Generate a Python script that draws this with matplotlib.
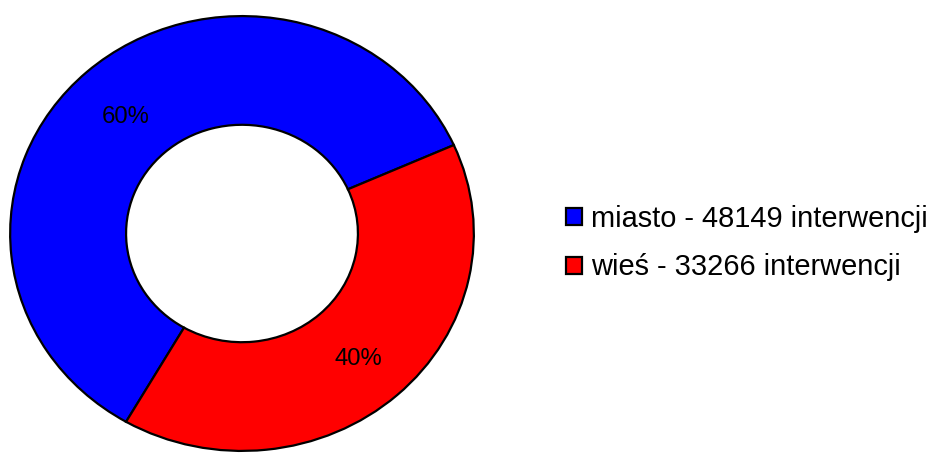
import matplotlib.pyplot as plt

# Data
categories = ['miasto', 'wieś']
counts = [48149, 33266]
shares = [60, 40]
colors = ['#0000FF', '#FF0000']

plt.rcParams['font.family'] = ['Liberation Sans', 'DejaVu Sans']

fig = plt.figure(figsize=(9.33, 4.53), dpi=100)
# axes sized so the ring is slightly wider than tall, like the original
ax = fig.add_axes([9 / 933, 1 / 453, 466 / 933, 437 / 453])

wedges, texts, autotexts = ax.pie(
    shares, colors=colors, startangle=24, counterclock=True,
    autopct='%.0f%%', pctdistance=0.75,
    wedgeprops=dict(width=0.5, edgecolor='black', linewidth=1.6),
    textprops=dict(fontsize=17.2, color='black'))

# labels sit a touch lower in the original
for t in autotexts:
    x, y = t.get_position()
    t.set_position((x, y - 0.022))

ax.set_aspect('auto')
ax.set_xlim(-1.005, 1.005)
ax.set_ylim(-1.005, 1.005)
ax.axis('off')

labels = [f'{c} - {n} interwencji' for c, n in zip(categories, counts)]
fig.legend(wedges, labels, loc='center left',
           bbox_to_anchor=(566 / 933, 1 - 243 / 453),
           frameon=False, fontsize=20.9, borderpad=0, borderaxespad=0,
           handlelength=0.55, handleheight=0.52, handletextpad=0.31,
           labelspacing=0.72)

fig.savefig('out.png', dpi=100)
